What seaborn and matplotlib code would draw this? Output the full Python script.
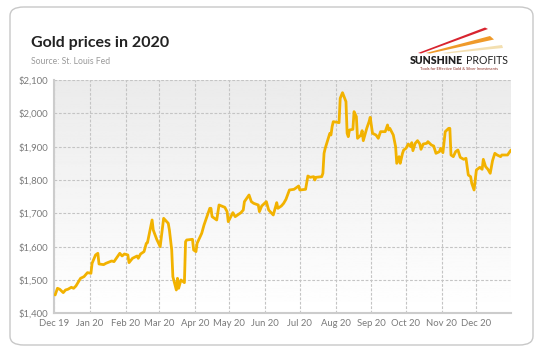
import numpy as np
import pandas as pd
import matplotlib
matplotlib.use("Agg")
import matplotlib.pyplot as plt
import matplotlib.dates as mdates
from matplotlib.patches import FancyBboxPatch, Polygon
from matplotlib.ticker import FuncFormatter, MultipleLocator
import seaborn as sns

# gold price readings (USD / oz)
dates = [
    "2019-12-02", "2019-12-04", "2019-12-06", "2019-12-09", "2019-12-11", "2019-12-13",
    "2019-12-16", "2019-12-18", "2019-12-20", "2019-12-24", "2019-12-27", "2019-12-30",
    "2020-01-02", "2020-01-03", "2020-01-06", "2020-01-08", "2020-01-09", "2020-01-13",
    "2020-01-15", "2020-01-20", "2020-01-22", "2020-01-24", "2020-01-27", "2020-01-29",
    "2020-01-31", "2020-02-03", "2020-02-04", "2020-02-07", "2020-02-11", "2020-02-12",
    "2020-02-14", "2020-02-17", "2020-02-19", "2020-02-20", "2020-02-24", "2020-02-25",
    "2020-02-28", "2020-03-02", "2020-03-05", "2020-03-09", "2020-03-10", "2020-03-12",
    "2020-03-13", "2020-03-16", "2020-03-17", "2020-03-18", "2020-03-20", "2020-03-23",
    "2020-03-24", "2020-03-25", "2020-03-30", "2020-03-31", "2020-04-02", "2020-04-03",
    "2020-04-07", "2020-04-09", "2020-04-14", "2020-04-15", "2020-04-16", "2020-04-20",
    "2020-04-22", "2020-04-27", "2020-04-29", "2020-04-30", "2020-05-04", "2020-05-06",
    "2020-05-11", "2020-05-13", "2020-05-14", "2020-05-18", "2020-05-20", "2020-05-22",
    "2020-05-26", "2020-05-27", "2020-05-29", "2020-06-02", "2020-06-04", "2020-06-08",
    "2020-06-11", "2020-06-12", "2020-06-15", "2020-06-17", "2020-06-19", "2020-06-22",
    "2020-06-26", "2020-06-30", "2020-07-01", "2020-07-06", "2020-07-08", "2020-07-10",
    "2020-07-13", "2020-07-14", "2020-07-15", "2020-07-20", "2020-07-21", "2020-07-22",
    "2020-07-23", "2020-07-27", "2020-07-28", "2020-07-29", "2020-07-30", "2020-08-02",
    "2020-08-04", "2020-08-05", "2020-08-07", "2020-08-10", "2020-08-11", "2020-08-12",
    "2020-08-13", "2020-08-16", "2020-08-17", "2020-08-19", "2020-08-20", "2020-08-23",
    "2020-08-24", "2020-08-25", "2020-08-28", "2020-08-30", "2020-08-31", "2020-09-02",
    "2020-09-05", "2020-09-07", "2020-09-09", "2020-09-13", "2020-09-15", "2020-09-16",
    "2020-09-17", "2020-09-20", "2020-09-22", "2020-09-23", "2020-09-25", "2020-09-26",
    "2020-09-28", "2020-09-29", "2020-10-01", "2020-10-03", "2020-10-05", "2020-10-06",
    "2020-10-07", "2020-10-09", "2020-10-11", "2020-10-13", "2020-10-14", "2020-10-16",
    "2020-10-19", "2020-10-20", "2020-10-23", "2020-10-25", "2020-10-27", "2020-10-30",
    "2020-10-31", "2020-11-02", "2020-11-04", "2020-11-07", "2020-11-08", "2020-11-09",
    "2020-11-11", "2020-11-13", "2020-11-15", "2020-11-17", "2020-11-20", "2020-11-22",
    "2020-11-24", "2020-11-26", "2020-11-27", "2020-11-29", "2020-12-01", "2020-12-04",
    "2020-12-06", "2020-12-07", "2020-12-09", "2020-12-11", "2020-12-13", "2020-12-15",
    "2020-12-17", "2020-12-19", "2020-12-22", "2020-12-23", "2020-12-28", "2020-12-29",
    "2020-12-31",
]
prices = [
    1455, 1475, 1472, 1462, 1470, 1472,
    1478, 1475, 1482, 1505, 1510, 1522,
    1520, 1550, 1575, 1580, 1548, 1546,
    1550, 1557, 1555, 1565, 1580, 1572,
    1578, 1575, 1552, 1565, 1572, 1565,
    1578, 1585, 1610, 1612, 1680, 1650,
    1622, 1600, 1685, 1670, 1650, 1590,
    1510, 1470, 1505, 1475, 1500, 1492,
    1615, 1620, 1622, 1590, 1585, 1610,
    1640, 1665, 1715, 1715, 1690, 1680,
    1725, 1718, 1705, 1675, 1702, 1690,
    1702, 1710, 1735, 1755, 1735, 1730,
    1725, 1705, 1722, 1735, 1710, 1695,
    1732, 1715, 1722, 1730, 1742, 1770,
    1772, 1782, 1770, 1772, 1812, 1808,
    1810, 1800, 1808, 1810, 1820, 1880,
    1895, 1940, 1935, 1960, 1975, 1973,
    1972, 2045, 2062, 2035, 1940, 1930,
    1950, 1952, 2005, 1990, 1925, 1935,
    1948, 1918, 1955, 1975, 1988, 1940,
    1935, 1925, 1945, 1945, 1965, 1950,
    1955, 1935, 1900, 1850, 1870, 1850,
    1880, 1890, 1895, 1908, 1900, 1912,
    1888, 1910, 1918, 1908, 1892, 1908,
    1910, 1915, 1905, 1902, 1880, 1885,
    1895, 1882, 1945, 1955, 1955, 1875,
    1870, 1885, 1890, 1868, 1862, 1865,
    1815, 1810, 1790, 1770, 1830, 1838,
    1832, 1862, 1840, 1832, 1820, 1858,
    1880, 1875, 1870, 1875, 1875, 1880,
    1890,
]

title = "Gold prices in 2020"
source = "Source: St. Louis Fed"

df = pd.DataFrame({"date": pd.to_datetime(dates), "price": prices})

sns.set_style("white")
plt.rcParams["font.family"] = ["Lato", "DejaVu Sans"]

W, H = 548, 352
fig = plt.figure(figsize=(W / 100, H / 100), dpi=100)
fig.patch.set_facecolor("white")


def fx(px):
    return px / W


def fy(py):
    return 1 - py / H


# rounded card behind everything
card = FancyBboxPatch((fx(10), fy(345)), fx(523), 338 / H,
                      boxstyle="round,pad=0,rounding_size=0.025",
                      transform=fig.transFigure, facecolor="white",
                      edgecolor="#c8c8c8", linewidth=1.0, zorder=-5)
fig.patches.append(card)

ax = fig.add_axes([fx(54), fy(313.3), fx(511 - 54), (313.3 - 80) / H])
ax.set_zorder(5)
ax.patch.set_alpha(0)

# background gradient: light grey at the top fading to white
grad = np.linspace(0.92, 1.0, 256).reshape(-1, 1)
ax.imshow(grad, aspect="auto", cmap="gray", vmin=0, vmax=1, origin="upper",
          extent=[0, 1, 0, 1], transform=ax.transAxes, zorder=0)

sns.lineplot(data=df, x="date", y="price", ax=ax, color="#f2b200",
             linewidth=2.0, zorder=3)

ax.set_xlim(pd.Timestamp("2019-12-01"), pd.Timestamp("2020-12-31"))
ax.set_ylim(1400, 2100)
ax.yaxis.set_major_locator(MultipleLocator(100))
ax.yaxis.set_major_formatter(FuncFormatter(lambda v, p: f"${v:,.0f}"))
ax.xaxis.set_major_locator(mdates.MonthLocator())
ax.xaxis.set_major_formatter(mdates.DateFormatter("%b %y"))
ax.set_xlabel("")
ax.set_ylabel("")

ax.grid(True, color="#c4c4c4", linestyle=(0, (2.5, 1.5)), linewidth=0.8)
for line in ax.get_xgridlines() + ax.get_ygridlines():
    line.set_zorder(1)

for side in ["top", "right"]:
    ax.spines[side].set_visible(False)
for side in ["left", "bottom"]:
    ax.spines[side].set_color("#cccccc")
    ax.spines[side].set_linewidth(1.5)
ax.tick_params(axis="both", length=0, labelsize=6.8, labelcolor="#7a7a7a", pad=4)

# titles
fig.text(fx(31), fy(43), title, fontsize=11.5, fontweight="bold",
         color="#222222", va="center", ha="left")
fig.text(fx(31), fy(62), source, fontsize=6.2, color="#9a9a9a",
         va="center", ha="left")

# logo
streaks = [
    ([(418, 53), (485, 27.5), (488, 29), (421, 53.5)], "#d8242f"),
    ([(426, 53), (490, 36), (494, 39.5), (430, 53.5)], "#ef9a2a"),
    ([(442, 53), (502, 45), (503, 48), (447, 53.5)], "#f3dfb0"),
]
for pts, col in streaks:
    fig.patches.append(Polygon([(fx(x), fy(y)) for x, y in pts], closed=True,
                               transform=fig.transFigure, facecolor=col,
                               edgecolor="none", zorder=2))
fig.text(fx(410), fy(61), "SUNSHINE", fontsize=7.6, fontweight="heavy",
         color="#222222", va="center", ha="left")
fig.text(fx(466), fy(61), "PROFITS", fontsize=7.6, color="#222222",
         va="center", ha="left")
fig.text(fx(459), fy(68.5), "Tools for Effective Gold & Silver Investments",
         fontsize=2.9, color="#8a2a20", va="center", ha="center")

fig.savefig("out.png", dpi=100)
